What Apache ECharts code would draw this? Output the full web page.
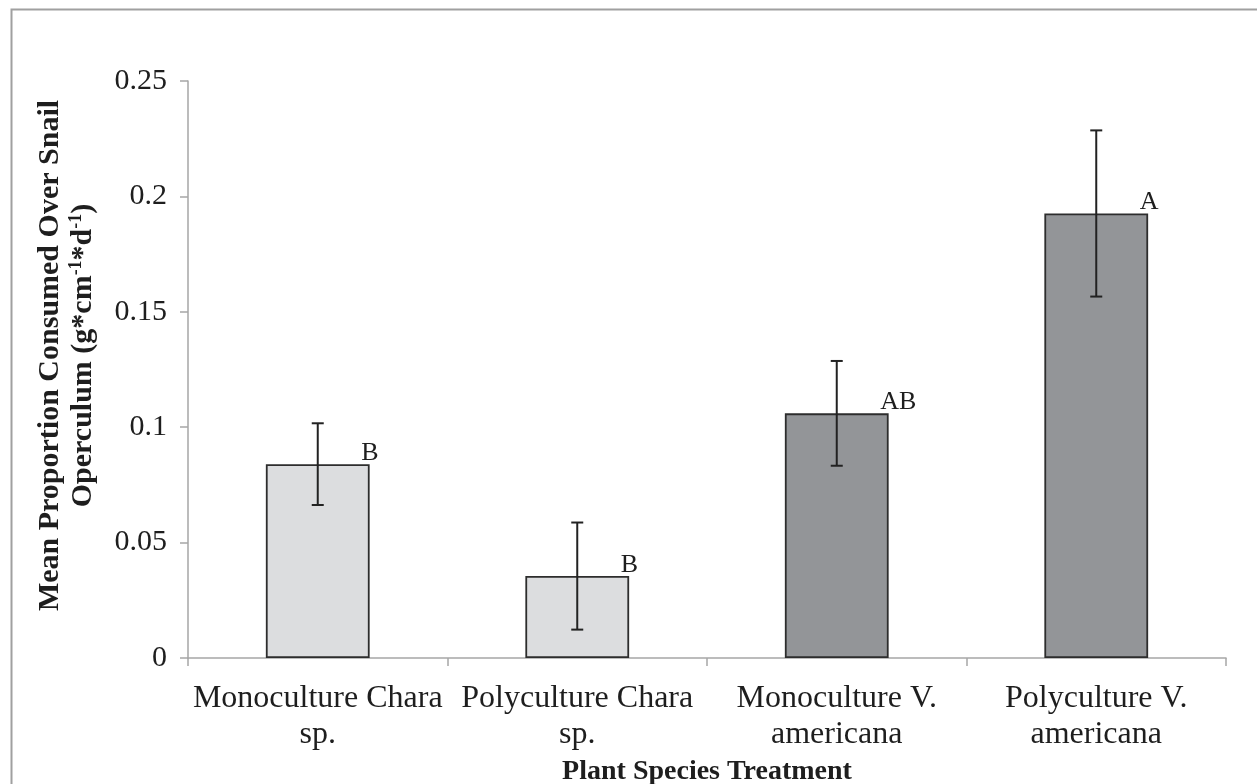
<!DOCTYPE html>
<html>
<head>
<meta charset="utf-8">
<script src="https://cdn.jsdelivr.net/npm/echarts@6/dist/echarts.min.js"></script>
<style>
  html, body { margin: 0; padding: 0; background: #fff; }
  #chart { width: 1257px; height: 784px; }
</style>
</head>
<body>
<div id="chart"></div>
<script>
const categories = ['Monoculture Chara sp.', 'Polyculture Chara sp.', 'Monoculture V. americana', 'Polyculture V. americana'];
const means = [0.084, 0.0355, 0.106, 0.1926];
const errors = [0.0177, 0.0232, 0.0227, 0.036];
const letters = ['B', 'B', 'AB', 'A'];
const barColors = ['#dcdddf', '#dcdddf', '#939598', '#939598'];

const FONT = '"Liberation Serif", "Times New Roman", serif';
const AXIS_COLOR = '#a6a6a6';
const TEXT_COLOR = '#1e1e1e';

const chart = echarts.init(document.getElementById('chart'));

const option = {
  backgroundColor: '#ffffff',
  animation: false,
  graphic: [{
    type: 'rect',
    left: 9, top: 7,
    shape: { width: 1320, height: 900 },
    style: { fill: 'none', stroke: '#a0a0a0', lineWidth: 2 },
    silent: true
  }],
  grid: { left: 188, right: 31, top: 81, bottom: 126, containLabel: false, outerBoundsMode: 'none' },
  xAxis: {
    type: 'category',
    data: categories,
    name: 'Plant Species Treatment',
    nameLocation: 'middle',
    nameGap: 98,
    nameTextStyle: { fontFamily: FONT, fontWeight: 'bold', fontSize: 28, color: TEXT_COLOR },
    axisLine: { show: true, lineStyle: { color: AXIS_COLOR, width: 1.5 } },
    axisTick: { show: true, length: 8, lineStyle: { color: AXIS_COLOR, width: 1.5 } },
    axisLabel: {
      interval: 0,
      margin: 23,
      fontFamily: FONT,
      fontSize: 32,
      lineHeight: 36,
      color: TEXT_COLOR,
      formatter: function (v) {
        const i = v.lastIndexOf(' ');
        return v.slice(0, i) + '\n' + v.slice(i + 1);
      }
    },
    splitLine: { show: false }
  },
  yAxis: {
    type: 'value',
    min: 0,
    max: 0.25,
    interval: 0.05,
    name: 'Mean Proportion Consumed Over Snail\nOperculum (g*cm{sup|-1}*d{sup|-1})',
    nameLocation: 'middle',
    nameRotate: 90,
    nameGap: 88,
    nameTextStyle: {
      fontFamily: FONT, fontWeight: 'bold', fontSize: 30, lineHeight: 33, color: TEXT_COLOR,
      padding: [0, 0, 0, 28],
      rich: {
        sup: { fontFamily: FONT, fontWeight: 'bold', fontSize: 18, lineHeight: 33, verticalAlign: 'top', color: TEXT_COLOR }
      }
    },
    axisLine: { show: true, lineStyle: { color: AXIS_COLOR, width: 1.5 } },
    axisTick: { show: true, length: 8, lineStyle: { color: AXIS_COLOR, width: 1.5 } },
    axisLabel: { margin: 21, fontFamily: FONT, fontSize: 30, color: TEXT_COLOR },
    splitLine: { show: false }
  },
  series: [
    {
      type: 'bar',
      barWidth: '40%',
      data: means.map((m, i) => ({ value: m, itemStyle: { color: barColors[i] } })),
      itemStyle: { borderColor: '#2d2d2d', borderWidth: 1.8 },
      label: {
        show: true,
        position: ['92%', 2],
        align: 'left',
        verticalAlign: 'bottom',
        fontFamily: FONT,
        fontSize: 26,
        color: TEXT_COLOR,
        formatter: p => letters[p.dataIndex]
      },
      z: 2
    },
    {
      type: 'custom',
      data: means.map((m, i) => [i, m, errors[i]]),
      z: 5,
      renderItem: function (params, api) {
        const i = api.value(0);
        const m = api.value(1);
        const e = api.value(2);
        const hi = api.coord([i, m + e]);
        const lo = api.coord([i, m - e]);
        const cap = 6;
        const st = { stroke: '#222222', lineWidth: 2 };
        return {
          type: 'group',
          children: [
            { type: 'line', shape: { x1: hi[0], y1: hi[1], x2: lo[0], y2: lo[1] }, style: st },
            { type: 'line', shape: { x1: hi[0] - cap, y1: hi[1], x2: hi[0] + cap, y2: hi[1] }, style: st },
            { type: 'line', shape: { x1: lo[0] - cap, y1: lo[1], x2: lo[0] + cap, y2: lo[1] }, style: st }
          ]
        };
      }
    }
  ]
};

chart.setOption(option);
</script>
</body>
</html>
